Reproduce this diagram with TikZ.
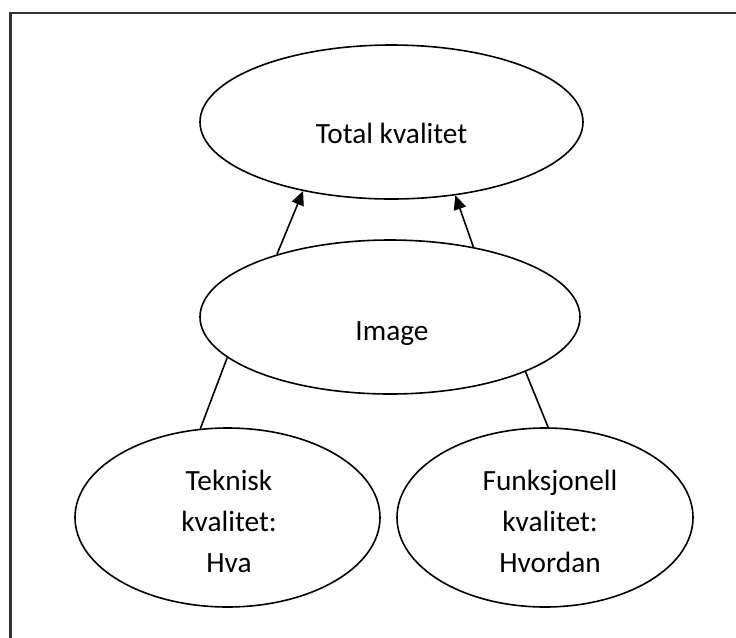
\documentclass[tikz,border=0pt]{standalone}
\usepackage{fontspec}
\setmainfont{Carlito}
\usetikzlibrary{shapes.geometric,arrows.meta}

\begin{document}
\begin{tikzpicture}[x=0.75pt,y=-0.75pt,
  oval/.style={draw=black,ellipse,line width=1.2pt,inner sep=0pt},
  lbl/.style={font=\fontsize{22}{30.75}\selectfont,align=center,inner sep=0pt},
  conn/.style={draw=black,line width=1.2pt},
  arr/.style={conn,-{Triangle[length=10.5pt,width=9.5pt]}},
  frame/.style={draw=black!80,line width=1.6pt}]
  \useasboundingbox (0,0) rectangle (736,637);

  % page frame (only its top and left edges are on the sheet)
  \coordinate (fb) at (10.5,640);
  \coordinate (fc) at (10.5,12.8);
  \coordinate (fr) at (740,12.8);
  \draw[frame] (fb) -- (fc) -- (fr);

  % ovals
  \node[oval,minimum width=383*0.75pt,minimum height=154*0.75pt] (tot) at (391.5,122) {};
  \node[oval,minimum width=380*0.75pt,minimum height=154*0.75pt] (img) at (390,317) {};
  \node[oval,minimum width=305*0.75pt,minimum height=179*0.75pt] (tek) at (227.5,517.5) {};
  \node[oval,minimum width=296*0.75pt,minimum height=179*0.75pt] (fun) at (545,517.5) {};

  % texts
  \node[lbl,anchor=base] (totT) at (391.5,143) {Total kvalitet};
  \node[lbl,anchor=base] (imgT) at (392,340) {Image};
  \node[lbl] (tekT) at (229,521) {Teknisk\\kvalitet:\\Hva};
  \node[lbl] (funT) at (550,521) {Funksjonell\\kvalitet:\\Hvordan};

  % connectors
  \draw[arr] (img.151.6) -- (tot.218.5);
  \draw[arr] (img.40.7) -- (tot.-49.8);
  \draw[conn] (img.194.5) -- (tek.107.4);
  \draw[conn] (img.-22.6) -- (fun.88);
\end{tikzpicture}
\end{document}
